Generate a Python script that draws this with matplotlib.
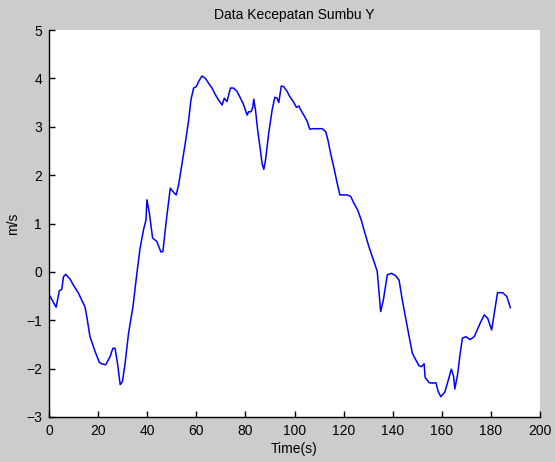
import matplotlib
matplotlib.use("Agg")
import matplotlib.pyplot as plt

time_s = [0.4, 2.9, 4.2, 5.2, 5.9, 6.8, 8.6, 9.9, 12.0, 13.3, 14.7, 15.6, 16.7, 18.8, 20.5, 21.5,
          23.1, 24.9, 26.0, 26.9, 27.9, 29.0, 29.9, 31.0, 32.4, 34.2, 35.8, 37.1, 38.5, 39.5,
          39.9, 40.9, 42.2, 43.9, 45.6, 46.4, 47.8, 49.4, 50.5, 51.8, 52.8, 54.2, 55.5, 56.9,
          57.8, 58.9, 60.0, 60.9, 62.3, 63.7, 65.0, 66.4, 67.8, 69.1, 70.5, 71.4, 72.5, 73.9,
          75.2, 76.6, 78.0, 79.3, 80.7, 81.3, 82.3, 83.0, 83.4, 84.1, 85.0, 86.1, 86.8, 87.5,
          88.2, 89.5, 90.9, 92.0, 92.9, 93.6, 94.6, 95.6, 97.0, 98.1, 99.5, 100.8, 101.8,
          102.4, 103.8, 105.2, 106.2, 107.9, 111.3, 112.7, 113.6, 114.7, 116.1, 117.4, 118.5,
          121.5, 122.9, 124.2, 125.8, 127.2, 128.3, 130.3, 132.4, 133.7, 135.1, 136.2, 137.8,
          139.5, 141.2, 142.6, 143.9, 145.3, 146.7, 148.0, 149.4, 150.7, 151.7, 152.8, 153.2,
          154.8, 156.2, 157.6, 158.5, 159.6, 161.2, 162.3, 163.9, 164.8, 165.3, 166.4, 167.5,
          168.4, 169.8, 171.5, 173.2, 174.6, 175.9, 177.3, 178.7, 180.3, 181.4, 182.7, 184.8,
          186.5, 187.9]
speed_y = [-0.50, -0.73, -0.39, -0.36, -0.10, -0.05, -0.15, -0.27, -0.44, -0.58, -0.73, -0.99,
           -1.34, -1.65, -1.87, -1.90, -1.92, -1.75, -1.58, -1.58, -1.89, -2.33, -2.27, -1.89,
           -1.27, -0.72, -0.03, 0.49, 0.87, 1.07, 1.49, 1.21, 0.70, 0.63, 0.41, 0.42, 1.07,
           1.73, 1.66, 1.59, 1.80, 2.24, 2.66, 3.14, 3.55, 3.80, 3.83, 3.93, 4.05, 4.00, 3.90,
           3.80, 3.66, 3.55, 3.45, 3.59, 3.52, 3.80, 3.80, 3.73, 3.59, 3.45, 3.24, 3.31, 3.31,
           3.40, 3.57, 3.35, 2.93, 2.52, 2.24, 2.12, 2.31, 2.87, 3.35, 3.61, 3.59, 3.50, 3.84,
           3.83, 3.73, 3.62, 3.52, 3.40, 3.43, 3.36, 3.24, 3.11, 2.95, 2.96, 2.96, 2.90, 2.73,
           2.45, 2.14, 1.83, 1.59, 1.59, 1.56, 1.42, 1.27, 1.07, 0.87, 0.52, 0.21, 0.01, -0.82,
           -0.58, -0.06, -0.03, -0.08, -0.17, -0.58, -0.96, -1.34, -1.68, -1.82, -1.94, -1.96,
           -1.90, -2.18, -2.29, -2.30, -2.29, -2.47, -2.58, -2.49, -2.30, -2.01, -2.16, -2.42,
           -2.13, -1.68, -1.37, -1.34, -1.40, -1.34, -1.18, -1.03, -0.89, -0.96, -1.20, -0.85,
           -0.43, -0.43, -0.51, -0.74]
x_ticks = list(range(0, 201, 20))
y_ticks = list(range(-3, 6))
title = "Data Kecepatan Sumbu Y"
x_label = "Time(s)"
y_label = "m/s"

plt.rcParams['font.family'] = ['Liberation Sans', 'DejaVu Sans']
fig = plt.figure(figsize=(5.55, 4.62), dpi=100, facecolor='#cccccc')
ax = fig.add_axes([49/555, 45/462, 491/555, 387/462])
ax.set_facecolor('white')
ax.plot(time_s, speed_y, color='#0000ff', linewidth=1.1)
ax.set_xlim(0, 200)
ax.set_ylim(-3, 5)
ax.set_xticks(x_ticks)
ax.set_yticks(y_ticks)
ax.spines['top'].set_visible(False)
ax.spines['right'].set_visible(False)
for s in ('left', 'bottom'):
    ax.spines[s].set_color('black')
    ax.spines[s].set_linewidth(1.0)
ax.tick_params(direction='in', length=4, width=1, labelsize=10, pad=5, colors='black')
ax.set_title(title, fontsize=10, pad=8)
ax.set_xlabel(x_label, fontsize=10, labelpad=3)
ax.set_ylabel(y_label, fontsize=10, labelpad=4)
fig.savefig("out.png", dpi=100, facecolor=fig.get_facecolor())
